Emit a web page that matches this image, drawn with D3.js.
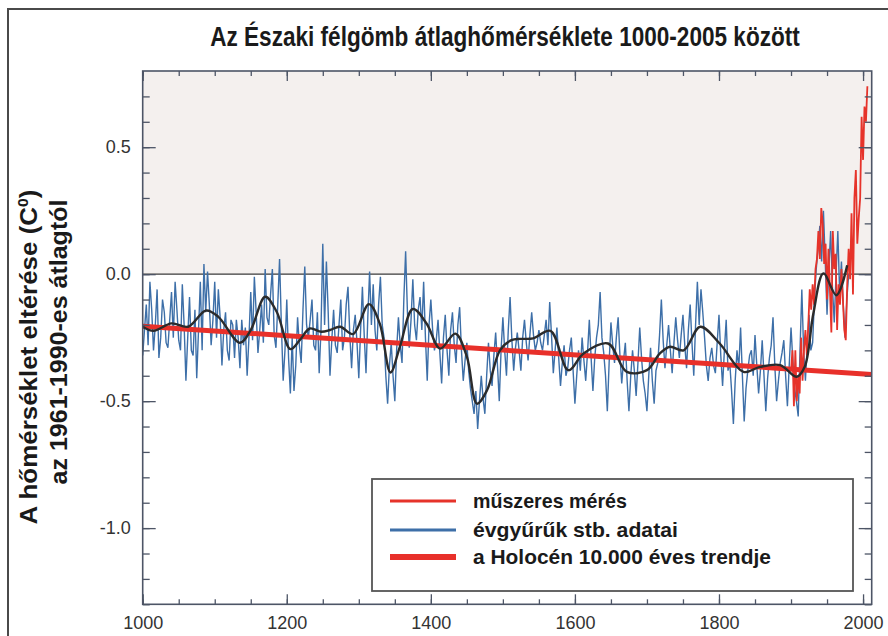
<!DOCTYPE html>
<html><head><meta charset="utf-8">
<script src="https://cdn.jsdelivr.net/npm/d3@7"></script>
<style>body{margin:0;background:#fff}svg{display:block}</style>
</head><body><svg id="c" width="888" height="636"></svg>
<script>
// ---------------- DATA ----------------
const titleText = "Az Északi félgömb átlaghőmérséklete 1000-2005 között";
const yLabelLine1 = "A hőmérséklet eltérése (C";
const yLabelSup = "0";
const yLabelLine2 = "az 1961-1990-es átlagtól";
const legendLabels = ["műszeres mérés", "évgyűrűk stb. adatai", "a Holocén 10.000 éves trendje"];

const xTickValues = [1000, 1200, 1400, 1600, 1800, 2000];
const xTickLabels = ["1000", "1200", "1400", "1600", "1800", "2000"];
const yTickValues = [-1.0, -0.5, 0.0, 0.5];
const yTickLabels = ["-1.0", "-0.5", "0.0", "0.5"];

// proxy reconstruction (évgyűrűk stb.), values at 1000, 1005, ... 1980
const proxyStart = 1000, proxyStep = 5;
const proxyValues = [
 -0.32,-0.12,-0.03,-0.30,-0.06,-0.25,-0.15,-0.29,-0.07,-0.03,
 -0.26,-0.04,-0.42,-0.09,-0.32,-0.41,-0.03, 0.04, 0.01,-0.28,
 -0.03,-0.06,-0.36,-0.15,-0.34,-0.20,-0.18,-0.37,-0.28,-0.40,
 -0.07,-0.01,-0.31,-0.12, 0.02,-0.20, 0.02,-0.29, 0.06,-0.42,
 -0.10,-0.47,-0.46,-0.17,-0.35, 0.03,-0.25,-0.10,-0.30,-0.39,
  0.12, 0.05,-0.40,-0.14,-0.31,-0.10,-0.25,-0.05,-0.37,-0.16,
 -0.41,-0.05,-0.39, 0.01,-0.04,-0.30,-0.01,-0.25,-0.51,-0.27,
 -0.50,-0.17,-0.35, 0.09,-0.29,-0.02,-0.26,-0.09,-0.03,-0.42,
 -0.10,-0.30,-0.18,-0.43,-0.16,-0.40,-0.15,-0.35,-0.13,-0.42,
 -0.27,-0.45,-0.55,-0.61,-0.40,-0.55,-0.27,-0.44,-0.23,-0.50,
 -0.17,-0.40,-0.09,-0.38,-0.23,-0.38,-0.18,-0.34,-0.15,-0.30,
 -0.22,-0.30,-0.18,-0.11,-0.39,-0.21,-0.44,-0.28,-0.37,-0.25,
 -0.51,-0.30,-0.25,-0.42,-0.18,-0.46,-0.25,-0.07,-0.31,-0.54,
 -0.19,-0.35,-0.17,-0.43,-0.27,-0.54,-0.30,-0.48,-0.21,-0.42,
 -0.54,-0.29,-0.51,-0.35,-0.10,-0.37,-0.20,-0.39,-0.17,-0.33,
 -0.16,-0.37,-0.12,-0.40,-0.03,-0.06,-0.25,-0.42,-0.29,-0.39,
 -0.16,-0.44,-0.18,-0.35,-0.59,-0.30,-0.21,-0.58,-0.38,-0.30,
 -0.24,-0.47,-0.26,-0.54,-0.33,-0.17,-0.50,-0.35,-0.26,-0.52,
 -0.21,-0.45,-0.56,-0.06,-0.42,-0.16,-0.27, 0.02, 0.19, 0.25,
 -0.16, 0.17,-0.19, 0.17, 0.05,-0.25, 0.00
];
// proxy values in between, at 1002.5, 1007.5, ... 1977.5
const proxyMidValues = [
 -0.22,-0.28,-0.14,-0.20,-0.33,-0.10,-0.27,-0.18,-0.25,-0.14,
 -0.30,-0.20,-0.25,-0.30,-0.14,-0.22,-0.30,-0.15,-0.12,-0.18,
 -0.25,-0.17,-0.22,-0.30,-0.18,-0.33,-0.25,-0.18,-0.21,-0.25,
 -0.26,-0.15,-0.22,-0.27,-0.17,-0.08,-0.24,-0.12,-0.20,-0.30,
 -0.33,-0.25,-0.36,-0.28,-0.14,-0.20,-0.18,-0.28,-0.15,-0.22,
 -0.20,-0.15,-0.26,-0.28,-0.20,-0.30,-0.12,-0.24,-0.22,-0.27,
 -0.22,-0.24,-0.17,-0.20,-0.22,-0.12,-0.20,-0.40,-0.36,-0.40,
 -0.30,-0.28,-0.10,-0.15,-0.18,-0.20,-0.14,-0.22,-0.25,-0.20,
 -0.22,-0.26,-0.31,-0.25,-0.30,-0.22,-0.28,-0.20,-0.30,-0.34,
 -0.38,-0.50,-0.46,-0.50,-0.49,-0.40,-0.38,-0.32,-0.36,-0.30,
 -0.30,-0.22,-0.26,-0.29,-0.30,-0.25,-0.27,-0.24,-0.24,-0.27,
 -0.27,-0.24,-0.28,-0.24,-0.30,-0.33,-0.35,-0.40,-0.30,-0.38,
 -0.40,-0.38,-0.34,-0.31,-0.33,-0.33,-0.20,-0.25,-0.40,-0.35,
 -0.28,-0.25,-0.32,-0.34,-0.42,-0.40,-0.38,-0.35,-0.33,-0.47,
 -0.40,-0.42,-0.38,-0.24,-0.26,-0.28,-0.30,-0.27,-0.26,-0.24,
 -0.28,-0.22,-0.27,-0.20,-0.20,-0.15,-0.36,-0.33,-0.36,-0.27,
 -0.32,-0.30,-0.38,-0.46,-0.42,-0.37,-0.40,-0.45,-0.32,-0.40,
 -0.36,-0.38,-0.40,-0.41,-0.28,-0.36,-0.42,-0.31,-0.40,-0.36,
 -0.34,-0.50,-0.30,-0.30,-0.28,-0.30,-0.10, 0.10, 0.05, 0.05,
  0.02,-0.05, 0.00,-0.08,-0.12,-0.10
];

// smoothed proxy curve (black)
const smoothYears = [1000,1015,1040,1063,1088,1105,1135,1150,1170,1186,1205,1218,1232,1248,1260,1274,1292,1314,1329,1344,1357,1375,1394,1413,1434,1450,1464,1478,1496,1512,1524,1542,1566,1591,1612,1646,1672,1700,1718,1732,1751,1774,1801,1834,1857,1885,1908,1919,1931,1945,1963,1978];
const smoothValues = [-0.207,-0.223,-0.194,-0.207,-0.143,-0.168,-0.270,-0.220,-0.089,-0.148,-0.295,-0.260,-0.214,-0.227,-0.220,-0.207,-0.236,-0.118,-0.194,-0.387,-0.286,-0.137,-0.194,-0.293,-0.234,-0.325,-0.510,-0.457,-0.300,-0.260,-0.255,-0.253,-0.223,-0.378,-0.312,-0.273,-0.385,-0.378,-0.312,-0.286,-0.300,-0.207,-0.273,-0.385,-0.365,-0.358,-0.404,-0.365,-0.155,0.003,-0.083,0.035];

// instrumental record (műszeres mérés), every 2 years 1900-2006
const instStart = 1900, instStep = 2;
const instValues = [
 -0.38,-0.30,-0.52,-0.30,-0.50,-0.40,-0.47,-0.25,-0.42,-0.30,
 -0.22,-0.32,-0.20,-0.06,-0.14,-0.04,-0.12, 0.02, 0.06, 0.17,
  0.06, 0.26, 0.20, 0.04, 0.12,-0.10, 0.10,-0.06,-0.23, 0.17,
  0.02, 0.08,-0.22,-0.04,-0.12, 0.02,-0.10,-0.22,-0.26,-0.04,
  0.10,-0.02, 0.24,-0.08, 0.30, 0.41, 0.12, 0.22, 0.30, 0.62,
  0.45, 0.66, 0.60, 0.74
];

// Holocene 10,000-year trend
const trendYears = [1000, 2012];
const trendValues = [-0.205, -0.395];

// ---------------- CHART ----------------
const svg = d3.select("#c");
const W = 888, H = 636;
const condensed = "'Liberation Sans Narrow','Liberation Sans',Arial,sans-serif";
const regular = "'Liberation Sans',Arial,Helvetica,sans-serif";

const x = d3.scaleLinear().domain([1000, 2012]).range([142.7, 871.7]);
const y = d3.scaleLinear().domain([-1.3, 0.8]).range([604.3, 71]);
const [x0, x1] = x.range(); const [y1, y0] = y.range();

function fitText(sel, tx, ty, target, rot) {
  const w = sel.node().getBBox().width;
  const k = target / w;
  sel.attr("transform", `translate(${tx},${ty})${rot ? ` rotate(${rot})` : ""} scale(${k},1)`);
}

// outer frame
svg.append("path").attr("d", `M8,${H + 5}V9H${W + 5}`)
  .attr("fill", "none").attr("stroke", "#4a4a4a").attr("stroke-width", 2);

// title
const title = svg.append("text").attr("font-family", condensed).attr("font-weight", "bold")
  .attr("font-size", 28).attr("fill", "#1a1a1a").attr("text-anchor", "middle").text(titleText);
fitText(title, 505, 46, 590);

// y axis title
const yl1 = svg.append("text").attr("font-family", condensed).attr("font-weight", "bold")
  .attr("font-size", 23).attr("fill", "#1a1a1a").attr("text-anchor", "middle");
yl1.append("tspan").text(yLabelLine1);
yl1.append("tspan").attr("font-size", 14).attr("dy", -9).text(yLabelSup);
yl1.append("tspan").attr("dy", 9).text(")");
fitText(yl1, 37, 357, 335, -90);
const yl2 = svg.append("text").attr("font-family", condensed).attr("font-weight", "bold")
  .attr("font-size", 23).attr("fill", "#1a1a1a").attr("text-anchor", "middle").text(yLabelLine2);
fitText(yl2, 67, 342, 285, -90);

// plot background (above zero tinted)
svg.append("defs").append("clipPath").attr("id", "clip")
  .append("rect").attr("x", x0).attr("y", y0).attr("width", x1 - x0).attr("height", y1 - y0);
svg.append("rect").attr("x", x0).attr("y", y0).attr("width", x1 - x0).attr("height", y(0) - y0)
  .attr("fill", "#f4f0ee");
svg.append("rect").attr("x", x0).attr("y", y(0)).attr("width", x1 - x0).attr("height", y1 - y(0))
  .attr("fill", "#ffffff");

const plot = svg.append("g").attr("clip-path", "url(#clip)");
plot.append("line").attr("x1", x0).attr("x2", x1).attr("y1", y(0)).attr("y2", y(0))
  .attr("stroke", "#3a3a3a").attr("stroke-width", 1.2);

const line = d3.line().x(d => x(d[0])).y(d => y(d[1]));
const proxy = [];
proxyValues.forEach((v, i) => {
  proxy.push([proxyStart + i * proxyStep, v]);
  if (i < proxyMidValues.length) proxy.push([proxyStart + i * proxyStep + proxyStep / 2, proxyMidValues[i]]);
});
const inst = instValues.map((v, i) => [instStart + i * instStep, v]);
const smooth = smoothYears.map((yr, i) => [yr, smoothValues[i]]);
const trend = trendYears.map((yr, i) => [yr, trendValues[i]]);

plot.append("path").datum(proxy).attr("d", line).attr("fill", "none")
  .attr("stroke", "#3d6fa8").attr("stroke-width", 1.4);
plot.append("path").datum(inst).attr("d", line).attr("fill", "none")
  .attr("stroke", "#e6332a").attr("stroke-width", 1.8);
plot.append("path").datum(trend).attr("d", line).attr("fill", "none")
  .attr("stroke", "#e8302a").attr("stroke-width", 5);
plot.append("path").datum(smooth).attr("d", d3.line().x(d => x(d[0])).y(d => y(d[1])).curve(d3.curveCatmullRom.alpha(0.5)))
  .attr("fill", "none").attr("stroke", "#2b2b2b").attr("stroke-width", 2.4);

// axes frame + inward ticks
const axisCol = "#4d5566";
svg.append("rect").attr("x", x0).attr("y", y0).attr("width", x1 - x0).attr("height", y1 - y0)
  .attr("fill", "none").attr("stroke", axisCol).attr("stroke-width", 1.6);

const yMinor = d3.range(-13, 8).map(d => d / 10);
const xMinor = d3.range(1000, 2001, 50);
function styleAxis(g) { g.select(".domain").remove(); g.selectAll("line").attr("stroke", axisCol).attr("stroke-width", 1.3); }
svg.append("g").attr("transform", `translate(${x0},0)`).call(d3.axisRight(y).tickValues(yMinor).tickSize(7).tickFormat("")).call(styleAxis);
svg.append("g").attr("transform", `translate(${x0},0)`).call(d3.axisRight(y).tickValues(yTickValues).tickSize(13).tickFormat("")).call(styleAxis);
svg.append("g").attr("transform", `translate(${x1},0)`).call(d3.axisLeft(y).tickValues(yMinor).tickSize(7).tickFormat("")).call(styleAxis);
svg.append("g").attr("transform", `translate(${x1},0)`).call(d3.axisLeft(y).tickValues(yTickValues).tickSize(13).tickFormat("")).call(styleAxis);
svg.append("g").attr("transform", `translate(0,${y1})`).call(d3.axisTop(x).tickValues(xMinor).tickSize(5).tickFormat("")).call(styleAxis);
svg.append("g").attr("transform", `translate(0,${y1})`).call(d3.axisTop(x).tickValues(xTickValues).tickSize(10).tickFormat("")).call(styleAxis);
svg.append("g").attr("transform", `translate(0,${y0})`).call(d3.axisBottom(x).tickValues(xMinor).tickSize(5).tickFormat("")).call(styleAxis);
svg.append("g").attr("transform", `translate(0,${y0})`).call(d3.axisBottom(x).tickValues(xTickValues).tickSize(10).tickFormat("")).call(styleAxis);

// tick labels
const yl = svg.append("g").attr("transform", `translate(${x0},0)`)
  .call(d3.axisLeft(y).tickValues(yTickValues).tickSize(0).tickPadding(12).tickFormat((d, i) => yTickLabels[i]));
yl.select(".domain").remove();
yl.selectAll("text").attr("font-family", regular).attr("font-size", 18).attr("fill", "#333");
const xl = svg.append("g").attr("transform", `translate(0,${y1})`)
  .call(d3.axisBottom(x).tickValues(xTickValues).tickSize(0).tickPadding(12).tickFormat((d, i) => xTickLabels[i]));
xl.select(".domain").remove();
xl.selectAll("text").attr("font-family", regular).attr("font-size", 18).attr("fill", "#333");

// legend
const lg = svg.append("g");
lg.append("rect").attr("x", 372).attr("y", 479).attr("width", 481).attr("height", 112)
  .attr("fill", "#fff").attr("stroke", "#555").attr("stroke-width", 1.8);
const legendColors = ["#e6332a", "#3d6fa8", "#e8302a"];
const legendWidths = [3, 3, 6];
const legendRows = [501, 530, 557];
const legendTextW = [154, 205, 298];
legendLabels.forEach((lab, i) => {
  lg.append("line").attr("x1", 390).attr("x2", 456).attr("y1", legendRows[i]).attr("y2", legendRows[i])
    .attr("stroke", legendColors[i]).attr("stroke-width", legendWidths[i]);
  const t = lg.append("text").attr("font-family", condensed).attr("font-weight", "bold")
    .attr("font-size", 20).attr("fill", "#1a1a1a").text(lab);
  fitText(t, 473, legendRows[i] + 7, legendTextW[i]);
});
</script></body></html>
